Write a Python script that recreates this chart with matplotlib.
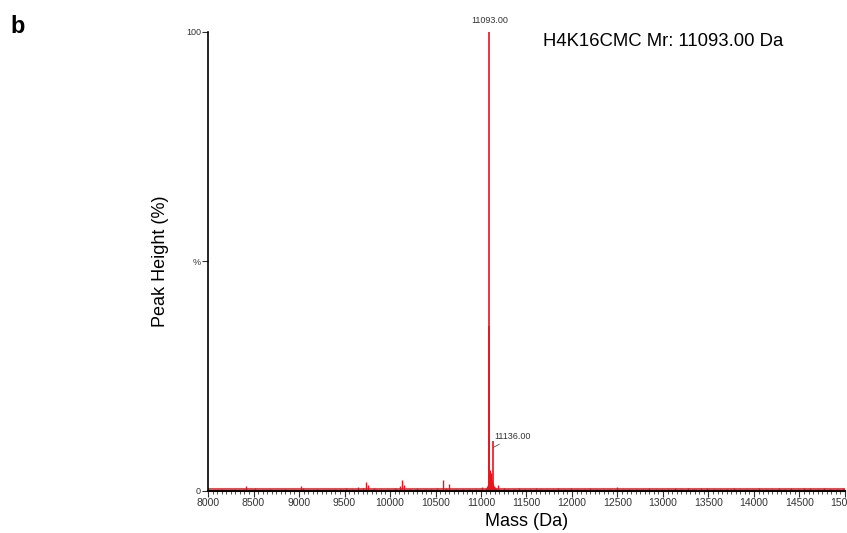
import numpy as np
import matplotlib.pyplot as plt
from matplotlib.ticker import MultipleLocator

plt.rcParams['font.family'] = ['Liberation Sans', 'DejaVu Sans']

# main peaks (mass in Da, peak height in %)
main_mass = [11088, 11093, 11136]
main_height = [36, 100, 11]

# cluster around the main peak
cluster_mass = [11060, 11070, 11080, 11098, 11103, 11108, 11113, 11118, 11124, 11130, 11145, 11155, 11170, 11190, 11210]
cluster_height = [0.6, 1.0, 1.5, 4.5, 3.5, 4.0, 3.0, 2.5, 2.0, 1.5, 1.0, 0.8, 0.6, 1.2, 0.5]

# small peaks and noise along the baseline
noise_mass = [8050, 8150, 8230, 8300, 8380, 8420, 8470, 8520, 8600, 8680, 8760, 8850,
              8930, 9020, 9040, 9110, 9200, 9290, 9380, 9450, 9520, 9580, 9650, 9700,
              9740, 9760, 9820, 9900, 9980, 10050, 10110, 10130, 10150, 10220, 10300,
              10380, 10450, 10520, 10580, 10620, 10650, 10720, 10800, 10870, 10950, 11010,
              11250, 11300, 11360, 11420, 11480, 11540, 11600, 11660, 11720, 11790, 11850,
              11920, 11990, 12060, 12130, 12200, 12270, 12340, 12420, 12490, 12560, 12630,
              12700, 12780, 12850, 12920, 12990, 13060, 13130, 13200, 13270, 13340, 13420,
              13480, 13560, 13630, 13700, 13780, 13850, 13920, 13990, 14060, 14130, 14200,
              14270, 14340, 14410, 14480, 14550, 14620, 14700, 14770, 14840, 14910, 14980]
noise_height = [0.3, 0.4, 0.3, 0.5, 0.4, 1.0, 0.4, 0.6, 0.3, 0.4, 0.3, 0.4,
                0.3, 1.0, 0.7, 0.3, 0.4, 0.3, 0.5, 0.4, 0.6, 0.5, 0.8, 0.7,
                2.0, 1.2, 0.6, 0.5, 0.4, 0.6, 1.0, 2.5, 1.2, 0.5, 0.6,
                0.5, 0.4, 0.6, 2.5, 0.6, 1.5, 0.5, 0.4, 0.5, 0.4, 0.8,
                0.6, 0.5, 0.4, 0.6, 0.5, 0.4, 0.6, 0.5, 0.5, 0.4, 0.6,
                0.5, 0.6, 0.4, 0.5, 0.6, 0.5, 0.4, 0.5, 0.8, 0.5, 0.4,
                0.5, 0.4, 0.6, 0.5, 0.4, 0.5, 0.6, 0.5, 0.6, 0.5, 0.7,
                0.6, 0.5, 0.4, 0.5, 0.6, 0.5, 0.4, 0.5, 0.6, 0.4, 0.5,
                0.6, 0.5, 0.6, 0.5, 0.7, 0.6, 0.5, 0.6, 0.5, 0.4, 0.6]

fig = plt.figure(figsize=(8.47, 5.33), dpi=100)
ax = fig.add_axes([0.2456, 0.0788, 0.752, 0.8612])

red = '#e8141b'
ax.vlines(noise_mass, 0, noise_height, color=red, lw=1.0)
ax.vlines(cluster_mass, 0, cluster_height, color=red, lw=1.0)
ax.vlines(main_mass, 0, main_height, color=red, lw=1.2)
ax.axhline(0.35, color=red, lw=1.1)

ax.set_xlim(8000, 15000)
ax.set_ylim(0, 100)
for s in ['top', 'right']:
    ax.spines[s].set_visible(False)
ax.spines['left'].set_linewidth(1.2)
ax.spines['bottom'].set_linewidth(1.5)
ax.spines['bottom'].set_zorder(5)

ax.xaxis.set_major_locator(MultipleLocator(500))
ax.xaxis.set_minor_locator(MultipleLocator(50))
ax.set_yticks([0, 50, 100])
ax.set_yticklabels(['0', '%', '100'])
ax.tick_params(axis='both', which='major', labelsize=7.5, length=4, width=0.8, colors='#333333', labelcolor='#333333', pad=1)
ax.tick_params(axis='x', which='minor', length=2, width=0.6, colors='#333333')
ax.tick_params(axis='y', labelsize=6.5)

ax.set_xlabel('Mass (Da)', fontsize=13, labelpad=4)
ax.set_ylabel('Peak Height (%)', fontsize=13, labelpad=12)

ax.text(11093, 101.5, '11093.00', fontsize=6.5, color='#333333', ha='center', va='bottom', clip_on=False)
ax.annotate('11136.00', xy=(11136, 9.5), xytext=(11150, 10.8), fontsize=6.5, color='#333333',
            ha='left', va='bottom',
            arrowprops=dict(arrowstyle='-', color='#555555', lw=0.6, shrinkA=0, shrinkB=0))

fig.text(0.641, 0.922, 'H4K16CMC Mr: 11093.00 Da', fontsize=13.3, va='center')
fig.text(0.012, 0.95, 'b', fontsize=17, fontweight='bold', va='center')

plt.savefig('out.png', dpi=100)
